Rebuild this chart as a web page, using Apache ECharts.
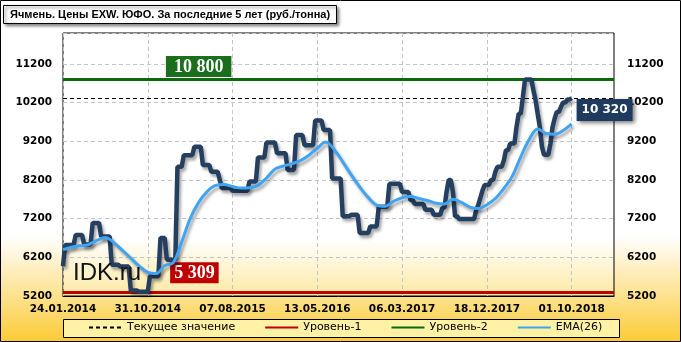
<!DOCTYPE html>
<html><head><meta charset="utf-8">
<script src="https://cdn.jsdelivr.net/npm/echarts@6/dist/echarts.min.js"></script>
<style>html,body{margin:0;padding:0;background:#fff}#c{width:681px;height:342px}</style>
</head><body><div id="c"></div>
<script>
// ---- data (prices, RUB/t; one point per category) ----
const titleText = 'Ячмень. Цены EXW. ЮФО. За последние 5 лет (руб./тонна)';
const tickLabels = ['24.01.2014','31.10.2014','07.08.2015','13.05.2016','06.03.2017','18.12.2017','01.10.2018'];
const tickEvery = 40;                     // a date label every 40 points
const totalSlots = 261;                   // axis length in points (data fills the first 241)
const prices = [
 5970,
 6520,6520,6520,6520,6520,
 6780,6780,6780,6780,
 6530,6530,6530,6530,
 7090,7090,7090,7090,
 6740,6740,6740,6740,6740,
 6010,6010,6010,6010,
 5960,5960,5960,5960,5960,
 5340,5340,5340,5340,
 5309,5309,5309,5309,5309,
 5710,5710,5710,5710,5710,
 6700,6700,6700,
 6140,6140,6140,6140,6140,
 8540,8540,8540,
 8840,8840,8840,8840,8840,
 9060,9060,9060,9060,
 8590,8590,8590,8590,
 8410,8410,8410,8410,
 8200,
 7990,7990,7990,7990,7990,
 7920,7920,7920,7920,7920,7920,7920,7920,
 8160,8160,8160,8160,
 8780,8780,8780,8780,
 9170,9170,9170,9170,9170,
 8890,8890,8890,8890,8890,
 8460,8460,8460,8460,
 9360,9360,9360,9360,
 9100,9100,9100,9100,9100,
 9740,9740,9740,9740,
 9490,9490,9490,9490,
 8240,8240,8240,8240,8240,
 7260,7260,7260,7260,
 7300,7300,7300,7300,
 6830,6830,6830,6830,6830,
 7000,7000,7000,7000,
 7510,7510,7510,7510,7510,
 8100,8100,8100,8100,8100,8100,
 7890,7890,7890,7890,
 7680,7680,
 7580,7580,7580,7580,7580,
 7430,7430,7430,7430,
 7300,7300,7300,7300,
 7480,7480,
 7900,
 8200,8200,
 7890,
 7260,7260,
 7190,7190,7190,7190,7190,7190,7190,7190,
 7430,7560,7750,7940,
 8070,8070,8070,
 8200,8200,
 8410,
 8540,8540,8540,
 8700,
 8970,8970,
 9140,9140,9140,
 9570,
 9910,9910,
 10340,
 10800,10800,10800,10800,
 10510,10260,9910,9570,9060,
 8850,8850,8850,
 9140,9570,9790,
 9960,9960,
 10090,
 10200,10200,
 10280,10280,
 10320
];
// EMA(26) read every 4 points
const emaStep = 4;
const ema = [6400,6460,6500,6530,6640,6710,6580,6380,6180,5970,5810,5780,5990,6060,6600,7200,
 7620,7900,8060,8080,8030,7990,8000,8060,8250,8480,8560,8620,8700,8840,9020,9180,8980,8670,
 8330,8020,7750,7550,7520,7650,7740,7770,7720,7670,7600,7580,7700,7620,7500,7460,7560,7720,
 7980,8300,8800,9250,9520,9400,9380,9480,9650];
const currentValue = 10320;
const level1 = 5309;
const level2 = 10800;
const yMin = 5200, yMax = 12000, yStep = 1000;
const legendNames = ['Текущее значение', 'Уровень-1', 'Уровень-2', 'EMA(26)'];

// ---- build categories ----
const cats = [];
for (let i = 0; i < totalSlots; i++) cats.push(String(i));
const emaCats = cats.filter((c,i)=> i % emaStep === 0);
function fmt(v){ v = Array.isArray(v)? v[v.length-1] : v; return String(Math.round(v)).replace(/\B(?=(\d{3})+(?!\d))/g,' '); }
function xLabel(v, idx){ const i = Number(v); return (i % tickEvery === 0 && tickLabels[i/tickEvery]) ? tickLabels[i/tickEvery] : ''; }

const FONT = 'DejaVu Sans';
const gridDash = {color:'#c4c4c4', width:1, type:[4,3]};
const shadow = {shadowColor:'rgba(0,0,0,0.35)', shadowBlur:3, shadowOffsetX:2, shadowOffsetY:3};

const chart = echarts.init(document.getElementById('c'), null, {renderer:'canvas'});
chart.setOption({
  animation:false,
  backgroundColor:{type:'linear',x:0,y:0,x2:0,y2:1,colorStops:[
    {offset:0,color:'#ffffff'},{offset:0.69,color:'#ffffff'},{offset:1,color:'#fccb36'}]},
  title:{text:titleText, left:3, top:5, padding:[4,7,4,7],
    backgroundColor:'#fff', borderColor:'#000', borderWidth:1,
    shadowBlur:3, shadowColor:'rgba(0,0,0,0.5)', shadowOffsetX:2, shadowOffsetY:2,
    textStyle:{fontFamily:'Liberation Sans', fontWeight:'bold', fontSize:11, color:'#000'}},
  grid:{left:63, right:67, top:33, bottom:46, show:true,
    backgroundColor:{type:'linear',x:0,y:0,x2:0,y2:1,colorStops:[
      {offset:0,color:'#ffffff'},{offset:0.78,color:'#ffffff'},{offset:1,color:'#fde9a2'}]},
    borderColor:'#000', borderWidth:1},
  legend:{data:legendNames, left:88, top:322, padding:0, itemWidth:33, itemHeight:12, itemGap:29,
    selectedMode:false, itemStyle:{opacity:0},
    textStyle:{fontFamily:FONT, fontSize:11, color:'#000'}},
  xAxis:[
    {type:'category', data:cats, boundaryGap:false,
      axisLine:{show:true, lineStyle:{color:'#000'}}, axisTick:{show:false},
      axisLabel:{interval:tickEvery-1, formatter:xLabel, margin:8, color:'#000',
        fontFamily:FONT, fontWeight:'bold', fontSize:10.5},
      splitLine:{show:true, interval:tickEvery-1, lineStyle:gridDash}},
    {type:'category', data:emaCats, boundaryGap:false, show:false}
  ],
  yAxis:[
    {type:'value', min:yMin, max:yMax, interval:yStep, position:'left',
      axisLine:{show:false}, axisTick:{show:false},
      axisLabel:{showMaxLabel:false, formatter:v=>String(v), margin:11, color:'#000', fontFamily:FONT, fontWeight:'bold', fontSize:10.5},
      splitLine:{show:true, lineStyle:gridDash}},
    {type:'value', min:yMin, max:yMax, interval:yStep, position:'right',
      axisLine:{show:false}, axisTick:{show:false},
      axisLabel:{showMaxLabel:false, formatter:v=>String(v), margin:13, color:'#000', fontFamily:FONT, fontWeight:'bold', fontSize:10.5},
      splitLine:{show:false}}
  ],
  series:[
    {name:legendNames[0], type:'line', data:[], symbol:'none',
      lineStyle:{color:'#000', width:1, type:[4,3]}, itemStyle:{color:'#000'},
      markLine:{silent:true, symbol:['none','none'], label:{show:false},
        lineStyle:{color:'#000', width:1, type:[4,3]}, data:[{yAxis:currentValue}]}},
    {name:legendNames[1], type:'line', data:[], symbol:'none',
      lineStyle:{color:'#c00000', width:3}, itemStyle:{color:'#c00000'},
      markLine:{silent:true, symbol:['none','none'], label:{show:false},
        lineStyle:{color:'#c00000', width:3, type:'solid'}, data:[{yAxis:level1}]},
      markPoint:{silent:true, symbol:'rect', symbolSize:1, itemStyle:{color:'rgba(0,0,0,0)'},
        data:[{coord:[62, level1], value:level1}],
        label:{show:true, position:'top', distance:8, formatter:p=>fmt(p.value),
          backgroundColor:'#c00000', color:'#fff', fontFamily:'Liberation Serif', fontWeight:'bold',
          fontSize:18, lineHeight:20, padding:[1,4,0,4]}}},
    {name:legendNames[2], type:'line', data:[], symbol:'none',
      lineStyle:{color:'#0b6b0b', width:3}, itemStyle:{color:'#0b6b0b'},
      markLine:{silent:true, symbol:['none','none'], label:{show:false},
        lineStyle:{color:'#0b6b0b', width:3, type:'solid'}, data:[{yAxis:level2}]},
      markPoint:{silent:true, symbol:'rect', symbolSize:1, itemStyle:{color:'rgba(0,0,0,0)'},
        data:[{coord:[64, level2], value:level2}],
        label:{show:true, position:'top', distance:2, formatter:p=>fmt(p.value),
          backgroundColor:'#1b6e1b', color:'#fff', fontFamily:'Liberation Serif', fontWeight:'bold',
          fontSize:18, lineHeight:20, padding:[1,8,0,8]}}},
    {name:'price', type:'line', data:prices, symbol:'none', z:5,
      lineStyle:Object.assign({color:'#243f60', width:4.5}, shadow),
      endLabel:{show:true, formatter:p=>fmt(p.value), distance:5, offset:[0,12],
        backgroundColor:'#1f3a5f', color:'#fff', fontFamily:FONT, fontWeight:'bold', fontSize:12,
        padding:[5,5,5,5], shadowBlur:4, shadowColor:'rgba(0,0,0,0.5)', shadowOffsetX:2, shadowOffsetY:2}},
    {name:legendNames[3], type:'line', xAxisIndex:1, data:ema, symbol:'none', smooth:0.35, z:6,
      lineStyle:Object.assign({color:'#3fa4f4', width:3}, shadow), itemStyle:{color:'#3fa4f4'}}
  ],
  graphic:[
    {type:'rect', z:-1, shape:{x:63.5, y:319.5, width:556, height:18},
      style:{fill:'#fff1a6', stroke:'#000', lineWidth:1}},
    {type:'text', z:10, left:73, top:261, style:{text:'IDK.ru', font:'24px "Liberation Sans"', fill:'#111'}},
    {type:'rect', z:100, shape:{x:0.5, y:0.5, width:680, height:341}, style:{fill:'none', stroke:'#000', lineWidth:1}}
  ]
});
</script></body></html>
